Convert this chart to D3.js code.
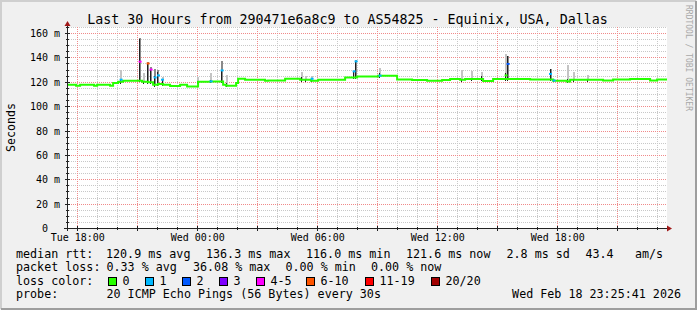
<!DOCTYPE html>
<html>
<head>
<meta charset="utf-8">
<script src="https://cdn.jsdelivr.net/npm/d3@7"></script>
<style>
  html, body { margin: 0; padding: 0; background: #f0f0f0; }
  svg { display: block; }
  text { font-family: "DejaVu Sans Mono", monospace; fill: #000; }
</style>
</head>
<body>
<svg id="chart" width="697" height="310"></svg>
<script>
// ── DATA ──────────────────────────────────────────────────────────────────────
// time is in hours counted from Tue 00:00
const timeStart = 17.485;
const timeEnd   = 47.485;

const tickHours  = [18, 24, 30, 36, 42];
const tickLabels = ['Tue 18:00', 'Wed 00:00', 'Wed 06:00', 'Wed 12:00', 'Wed 18:00'];
const yTicks     = [0, 20, 40, 60, 80, 100, 120, 140, 160];

// median rtt (ms), step starts
const medianHours = [17.49, 17.94, 18.14, 18.84, 18.99, 19.64, 19.79, 20.04, 20.29, 21.24,
  21.54, 21.79, 22.04, 22.29, 22.64, 23.14, 23.49, 24.04, 24.64, 25.29,
  25.44, 25.94, 26.04, 26.39, 27.39, 27.54, 28.39, 29.14, 29.69, 30.04,
  31.39, 31.99, 33.04, 33.99, 34.74, 35.49, 36.24, 36.64, 37.14, 37.39,
  38.29, 38.79, 39.64, 40.64, 41.79, 42.49, 42.64, 44.29, 44.79, 45.64,
  46.64, 46.99];
const medianMs = [117.6, 116.8, 117.6, 116.8, 117.6, 116.8, 119.0, 120.0, 120.9, 120.0,
  119.5, 117.6, 118.2, 117.6, 116.6, 117.6, 116.2, 120.0, 120.3, 117.6,
  116.8, 119.0, 122.5, 121.7, 120.9, 121.1, 122.5, 121.7, 120.9, 121.7,
  123.5, 124.4, 124.9, 121.9, 121.5, 120.9, 121.5, 122.2, 121.7, 122.2,
  120.7, 122.2, 122.3, 121.8, 120.9, 120.3, 121.7, 121.1, 121.9, 122.2,
  121.1, 121.8];

// smoke spikes: slot time, top of smoke, top of dense smoke, median, loss class
const smokeHours  = [20.19, 21.14, 21.34, 21.54, 21.69, 21.89, 22.06, 22.26, 24.04, 24.69,
  25.24, 25.49, 29.24, 29.44, 29.74, 31.84, 31.94, 33.14, 37.24, 37.74,
  38.24, 39.44, 39.54, 41.66, 41.84, 42.54, 42.84, 43.54];
const smokeTop    = [130, 156, 127, 136.5, 132, 130.4, 129.5, 124, 123.8, 127,
  136.7, 125.8, 127.7, 125, 125, 130, 138, 131.2, 129.3, 129,
  128, 143, 141, 130.7, 122.5, 133.9, 127.7, 125.5];
const smokeDense  = [122.5, 155, 121, 135.4, 130.5, 124.4, 127.7, 122.2, 121, 121.5,
  130, 119, 124, 122, 122.5, 129, 137.3, 127, 122.2, 122.2,
  125, 127, 140.8, 130.4, 121.5, 122, 122, 122];
const smokeMedian = [121.7, 136.5, 120, 135, 130, 123.5, 125.2, 121.7, 120, 120.3,
  129.3, 117.6, 121.7, 121.7, 122.5, 128.5, 136.7, 125, 122.2, 122.2,
  122.2, 125.2, 134.6, 126.4, 121.0, 121.7, 121.7, 121.7];
const smokeLoss   = [1, 4, 0, 5, 4, 1, 1, 1, 0, 1,
  1, 0, 0, 0, 1, 1, 1, 1, 0, 0,
  0, 0, 2, 1, 1, 0, 0, 0];

const lossLabels = ['0', '1', '2', '3', '4-5', '6-10', '11-19', '20/20'];
const lossColors = ['#26ff00', '#00b8ff', '#0059ff', '#7e00ff', '#ff00ff', '#ff5500', '#ff0000', '#a10000'];
const lossBoxX   = [108.5, 145.5, 182.5, 219.5, 256.5, 306.5, 365.5, 431.5];

const rttStats  = [['median rtt:', 16], ['120.9 ms avg', 106], ['136.3 ms max', 206], ['116.0 ms min', 306],
  ['121.6 ms now', 406], ['2.8 ms sd', 506.5], ['43.4', 585.5], ['am/s', 635]];
const lossStats = [['packet loss:', 16], ['0.33 % avg', 106.5], ['36.08 % max', 193],
  ['0.00 % min', 285.5], ['0.00 % now', 371]];
const probeText = '20 ICMP Echo Pings (56 Bytes) every 30s';
const stampText = 'Wed Feb 18 23:25:41 2026';
const titleText = 'Last 30 Hours from 290471e6a8c9 to AS54825 - Equinix, USA, Dallas';

// ── SETUP ─────────────────────────────────────────────────────────────────────
const W = 697, H = 310;
const plot = { left: 67, right: 667, top: 27, bottom: 228 };

const svg = d3.select('#chart');
const x = d3.scaleLinear().domain([timeStart, timeEnd]).range([plot.left, plot.right]);
const y = d3.scaleLinear().domain([0, 165]).range([228, 228 - 165 * 1.21875]);
const px = v => Math.round(v) + 0.5;

// frame
svg.append('rect').attr('width', W).attr('height', H).attr('fill', '#f0f0f0');
svg.append('path').attr('d', `M1,${H - 1}V1H${W - 1}`).attr('fill', 'none').attr('stroke', '#cfcfcf').attr('stroke-width', 2);
svg.append('path').attr('d', `M1,${H - 1}H${W - 1}V1`).attr('fill', 'none').attr('stroke', '#9e9e9e').attr('stroke-width', 2);

// plot canvas
svg.append('rect')
  .attr('x', plot.left).attr('y', y(165))
  .attr('width', plot.right - plot.left).attr('height', y(0) - y(165))
  .attr('fill', '#ffffff');

// ── GRID ──────────────────────────────────────────────────────────────────────
const grid = svg.append('g').attr('shape-rendering', 'crispEdges');
const minorY = d3.range(5, 166, 5).filter(v => v % 20 !== 0);
const majorY = yTicks.filter(v => v > 0);
const minorX = d3.range(18, 48).filter(h => h % 3 !== 0);
const majorX = d3.range(18, 48, 3);

grid.selectAll('.ym').data(minorY).join('line')
  .attr('x1', plot.left).attr('x2', plot.right)
  .attr('y1', d => px(y(d))).attr('y2', d => px(y(d)))
  .attr('stroke', '#c8c8c8').attr('stroke-dasharray', '1,1');
grid.selectAll('.xm').data(minorX).join('line')
  .attr('x1', d => px(x(d))).attr('x2', d => px(x(d)))
  .attr('y1', y(165)).attr('y2', plot.bottom)
  .attr('stroke', '#c8c8c8').attr('stroke-dasharray', '1,1');
grid.selectAll('.yM').data(majorY).join('line')
  .attr('x1', plot.left).attr('x2', plot.right)
  .attr('y1', d => px(y(d))).attr('y2', d => px(y(d)))
  .attr('stroke', '#f08a8a').attr('stroke-dasharray', '1,1');
grid.selectAll('.xM').data(majorX).join('line')
  .attr('x1', d => px(x(d))).attr('x2', d => px(x(d)))
  .attr('y1', y(165)).attr('y2', plot.bottom)
  .attr('stroke', '#f08a8a').attr('stroke-dasharray', '1,1');

// ── SMOKE ─────────────────────────────────────────────────────────────────────
const baseAt = h => medianMs[Math.max(0, d3.bisectRight(medianHours, h) - 1)];
const smoke = smokeHours.map((h, i) => ({
  h, top: smokeTop[i], dense: smokeDense[i], med: smokeMedian[i], loss: smokeLoss[i], base: baseAt(h)
}));

const smokeG = svg.append('g').attr('shape-rendering', 'crispEdges');
smokeG.selectAll('.light').data(smoke).join('rect')
  .attr('x', d => Math.round(x(d.h)) - 1).attr('width', 2)
  .attr('y', d => y(d.top)).attr('height', d => Math.max(0, y(d.base) - y(d.top)))
  .attr('fill', d => d.dense - d.base > 6 ? '#8a8a8a' : '#c4c4c4');
smokeG.selectAll('.dense').data(smoke).join('rect')
  .attr('x', d => Math.round(x(d.h)) - 1).attr('width', 1)
  .attr('y', d => y(d.dense)).attr('height', d => Math.max(0, y(d.base - 1.5) - y(d.dense)))
  .attr('fill', '#202020');

// ── MEDIAN LINE ───────────────────────────────────────────────────────────────
const medianPts = medianHours.map((h, i) => [h, medianMs[i]]);
medianPts.push([timeEnd, medianMs[medianMs.length - 1]]);

svg.append('path')
  .datum(medianPts)
  .attr('fill', 'none')
  .attr('stroke', lossColors[0])
  .attr('stroke-width', 2)
  .attr('d', d3.line().x(d => x(d[0])).y(d => y(d[1])).curve(d3.curveStepAfter));

// loss coloured median points
svg.append('g').selectAll('rect').data(smoke.filter(d => d.loss > 0 || d.med > d.base + 2)).join('rect')
  .attr('x', d => x(d.h) - 1.5).attr('width', 3)
  .attr('y', d => y(d.med) - 1).attr('height', 2)
  .attr('fill', d => lossColors[d.loss]);

// ── AXES ──────────────────────────────────────────────────────────────────────
const axes = svg.append('g').attr('shape-rendering', 'crispEdges').attr('stroke', '#222');
axes.append('line').attr('x1', plot.left - 3).attr('x2', plot.right + 1)
  .attr('y1', plot.bottom + 0.5).attr('y2', plot.bottom + 0.5);
axes.append('line').attr('x1', plot.left + 0.5).attr('x2', plot.left + 0.5)
  .attr('y1', plot.bottom + 3).attr('y2', 24);
axes.selectAll('.tx').data(d3.range(18, 48)).join('line')
  .attr('x1', d => px(x(d))).attr('x2', d => px(x(d)))
  .attr('y1', d => d % 3 === 0 ? plot.bottom - 2 : plot.bottom - 1)
  .attr('y2', d => d % 3 === 0 ? plot.bottom + 3 : plot.bottom + 2);
axes.selectAll('.ty').data(d3.range(5, 166, 5)).join('line')
  .attr('y1', d => px(y(d))).attr('y2', d => px(y(d)))
  .attr('x1', d => d % 20 === 0 ? plot.left - 2 : plot.left - 1)
  .attr('x2', d => d % 20 === 0 ? plot.left + 3 : plot.left + 2);

// arrows
svg.append('path')
  .attr('d', `M${plot.right},${plot.bottom - 2.5}L${plot.right + 5},${plot.bottom + 0.5}L${plot.right},${plot.bottom + 3.5}Z`)
  .attr('fill', '#a01818');
svg.append('path')
  .attr('d', `M${plot.left - 2.5},26L${plot.left + 0.5},21L${plot.left + 3.5},26Z`)
  .attr('fill', '#a01818');

// x labels
const xAxis = d3.axisBottom(x).tickValues(tickHours).tickSize(0).tickPadding(0)
  .tickFormat((d, i) => tickLabels[i]);
const xg = svg.append('g').attr('transform', `translate(0,${plot.bottom})`).call(xAxis);
xg.select('.domain').remove();
xg.selectAll('text').attr('y', 13).attr('dy', null)
  .attr('font-family', '"DejaVu Sans Mono", monospace').attr('font-size', 10);

// y labels
const yAxis = d3.axisLeft(y).tickValues(yTicks).tickSize(0).tickPadding(7)
  .tickFormat(d => d === 0 ? '0' : `${d} m`);
const yg = svg.append('g').attr('transform', `translate(${plot.left},0)`).call(yAxis);
yg.select('.domain').remove();
yg.selectAll('text')
  .attr('font-family', '"DejaVu Sans Mono", monospace').attr('font-size', 10)
  .attr('dy', '0.35em')
  .attr('x', d => d === 0 ? -19 : -7);

// ── TEXTS ─────────────────────────────────────────────────────────────────────
svg.append('text').attr('x', 347.5).attr('y', 24).attr('text-anchor', 'middle')
  .attr('font-size', 13.3).text(titleText);

svg.append('text').attr('transform', 'translate(14.5,127.5) rotate(-90)')
  .attr('text-anchor', 'middle').attr('font-size', 11.6).text('Seconds');

svg.append('text').attr('transform', 'translate(686,5) rotate(90)')
  .attr('font-size', 8).style('fill', '#a8a8a8').text('RRDTOOL / TOBI OETIKER');

const legendRows = [258, 271.3, 284.6, 297.9];
const legend = svg.append('g').attr('font-size', 11.7);

legend.selectAll('.r1').data(rttStats).join('text')
  .attr('x', d => d[1]).attr('y', legendRows[0]).text(d => d[0]);
legend.selectAll('.r2').data(lossStats).join('text')
  .attr('x', d => d[1]).attr('y', legendRows[1]).text(d => d[0]);

legend.append('text').attr('x', 16).attr('y', legendRows[2]).text('loss color:');
legend.selectAll('.lb').data(lossLabels).join('rect')
  .attr('x', (d, i) => lossBoxX[i]).attr('y', 277.5).attr('width', 8).attr('height', 8)
  .attr('fill', (d, i) => lossColors[i]).attr('stroke', '#000').attr('stroke-width', 1)
  .attr('shape-rendering', 'crispEdges');
legend.selectAll('.lt').data(lossLabels).join('text')
  .attr('x', (d, i) => lossBoxX[i] + 14).attr('y', legendRows[2]).text(d => d);

legend.append('text').attr('x', 16).attr('y', legendRows[3]).text('probe:');
legend.append('text').attr('x', 106.5).attr('y', legendRows[3]).text(probeText);
legend.append('text').attr('x', 681).attr('y', legendRows[3]).attr('text-anchor', 'end').text(stampText);
</script>
</body>
</html>
